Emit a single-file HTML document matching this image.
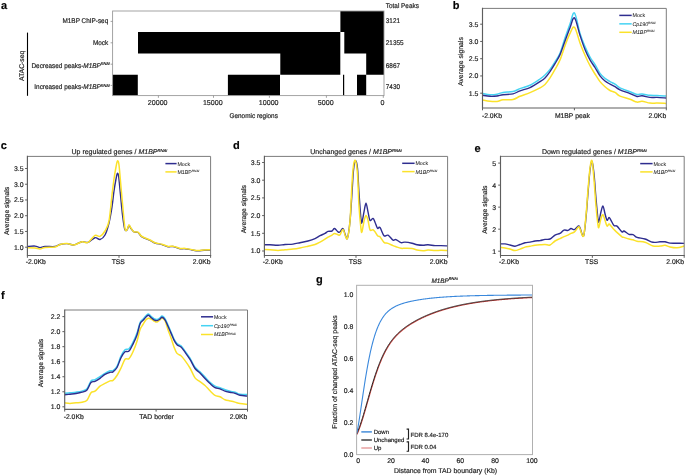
<!DOCTYPE html>
<html><head><meta charset="utf-8"><title>Figure</title>
<style>html,body{margin:0;padding:0;background:#fff;}svg{display:block;will-change:transform;}text{font-family:"Liberation Sans", sans-serif;text-rendering:geometricPrecision;stroke:#1e1e1e;stroke-width:0.18px;}</style></head>
<body>
<svg width="685" height="475" viewBox="0 0 685 475" font-family='"Liberation Sans", sans-serif'>
<rect width="685" height="475" fill="#fff"/>
<text x="1.00" y="8.80" font-size="11" text-anchor="start" fill="#000" font-weight="bold">a</text>
<path d="M340.40,11.00H384.00V32.10H340.40ZM138.00,32.10H340.30V53.40H138.00ZM344.30,32.10H384.00V53.40H344.30ZM280.30,53.40H340.30V74.70H280.30ZM366.20,53.40H384.00V74.70H366.20ZM112.60,74.70H137.80V95.60H112.60ZM227.90,74.70H280.00V95.60H227.90ZM343.00,74.70H344.20V95.60H343.00ZM357.00,74.70H366.20V95.60H357.00Z" fill="#000"/>
<rect x="112.60" y="11.00" width="271.40" height="84.60" fill="none" stroke="#9a9a9a" stroke-width="0.9"/>
<line x1="110.60" y1="21.40" x2="112.60" y2="21.40" stroke="#8a8a8a" stroke-width="0.8"/>
<text x="0" y="0" transform="translate(108.20 23.10) scale(1.0 1.07)" font-size="6.4" text-anchor="end" fill="#1e1e1e"><tspan>M1BP ChIP-seq</tspan></text>
<line x1="110.60" y1="42.80" x2="112.60" y2="42.80" stroke="#8a8a8a" stroke-width="0.8"/>
<text x="0" y="0" transform="translate(108.20 45.00) scale(1.0 1.07)" font-size="6.4" text-anchor="end" fill="#1e1e1e"><tspan>Mock</tspan></text>
<line x1="110.60" y1="64.20" x2="112.60" y2="64.20" stroke="#8a8a8a" stroke-width="0.8"/>
<text x="0" y="0" transform="translate(109.70 67.60) scale(1.0 1.07)" font-size="6.4" text-anchor="end" fill="#1e1e1e"><tspan>Decreased peaks-</tspan><tspan font-style="italic">M1BP</tspan><tspan font-style="italic" font-size="3.84" dy="-2.18">RNAi</tspan></text>
<line x1="110.60" y1="85.40" x2="112.60" y2="85.40" stroke="#8a8a8a" stroke-width="0.8"/>
<text x="0" y="0" transform="translate(109.70 89.10) scale(1.0 1.07)" font-size="6.4" text-anchor="end" fill="#1e1e1e"><tspan>Increased peaks-</tspan><tspan font-style="italic">M1BP</tspan><tspan font-style="italic" font-size="3.84" dy="-2.18">RNAi</tspan></text>
<line x1="27.50" y1="32.60" x2="27.50" y2="95.80" stroke="#000" stroke-width="1.1"/>
<text x="0" y="0" transform="translate(24.30 65.90) rotate(-90)" font-size="6.8" text-anchor="middle" fill="#1e1e1e">ATAC-seq</text>
<text x="0" y="0" transform="translate(385.80 8.20) scale(1.0 1.07)" font-size="6.4" text-anchor="start" fill="#1e1e1e">Total Peaks</text>
<text x="0" y="0" transform="translate(385.80 23.10) scale(1.0 1.07)" font-size="6.4" text-anchor="start" fill="#1e1e1e">3121</text>
<text x="0" y="0" transform="translate(385.80 45.00) scale(1.0 1.07)" font-size="6.4" text-anchor="start" fill="#1e1e1e">21355</text>
<text x="0" y="0" transform="translate(385.80 67.60) scale(1.0 1.07)" font-size="6.4" text-anchor="start" fill="#1e1e1e">6867</text>
<text x="0" y="0" transform="translate(385.80 89.10) scale(1.0 1.07)" font-size="6.4" text-anchor="start" fill="#1e1e1e">7430</text>
<line x1="383.30" y1="95.60" x2="383.30" y2="97.80" stroke="#8a8a8a" stroke-width="0.8"/>
<text x="382.60" y="104.90" font-size="7.1" text-anchor="middle" fill="#1e1e1e">0</text>
<line x1="326.40" y1="95.60" x2="326.40" y2="97.80" stroke="#8a8a8a" stroke-width="0.8"/>
<text x="325.70" y="104.90" font-size="7.1" text-anchor="middle" fill="#1e1e1e">5000</text>
<line x1="269.40" y1="95.60" x2="269.40" y2="97.80" stroke="#8a8a8a" stroke-width="0.8"/>
<text x="268.70" y="104.90" font-size="7.1" text-anchor="middle" fill="#1e1e1e">10000</text>
<line x1="213.50" y1="95.60" x2="213.50" y2="97.80" stroke="#8a8a8a" stroke-width="0.8"/>
<text x="212.80" y="104.90" font-size="7.1" text-anchor="middle" fill="#1e1e1e">15000</text>
<line x1="158.40" y1="95.60" x2="158.40" y2="97.80" stroke="#8a8a8a" stroke-width="0.8"/>
<text x="157.70" y="104.90" font-size="7.1" text-anchor="middle" fill="#1e1e1e">20000</text>
<text x="0" y="0" transform="translate(253.70 118.00) scale(1.0 1.07)" font-size="6.4" text-anchor="middle" fill="#1e1e1e">Genomic regions</text>
<text x="452.80" y="8.70" font-size="11" text-anchor="start" fill="#000" font-weight="bold">b</text>
<clipPath id="cb"><rect x="482.5" y="8.4" width="183.79999999999995" height="99.6"/></clipPath>
<g clip-path="url(#cb)">
<path d="M482.50,100.00 C483.75,100.22 487.58,101.07 490.00,101.30 C492.42,101.53 494.83,101.65 497.00,101.40 C499.17,101.15 500.33,100.12 503.00,99.80 C505.67,99.48 510.17,100.08 513.00,99.50 C515.83,98.92 517.17,97.45 520.00,96.30 C522.83,95.15 526.67,94.00 530.00,92.60 C533.33,91.20 537.50,89.25 540.00,87.90 C542.50,86.55 543.33,86.17 545.00,84.50 C546.67,82.83 548.33,80.42 550.00,77.90 C551.67,75.38 553.33,72.40 555.00,69.40 C556.67,66.40 558.33,63.85 560.00,59.90 C561.67,55.95 563.33,50.12 565.00,45.70 C566.67,41.28 568.42,36.47 570.00,33.40 C571.58,30.33 572.83,25.72 574.50,27.30 C576.17,28.88 578.25,38.25 580.00,42.90 C581.75,47.55 583.33,51.42 585.00,55.20 C586.67,58.98 588.33,62.47 590.00,65.60 C591.67,68.73 593.33,71.33 595.00,74.00 C596.67,76.67 598.33,79.48 600.00,81.60 C601.67,83.72 603.33,85.22 605.00,86.70 C606.67,88.18 608.33,89.55 610.00,90.50 C611.67,91.45 613.33,91.47 615.00,92.40 C616.67,93.33 617.50,94.95 620.00,96.10 C622.50,97.25 627.17,98.30 630.00,99.30 C632.83,100.30 635.00,101.78 637.00,102.10 C639.00,102.42 639.83,101.03 642.00,101.20 C644.17,101.37 647.50,102.78 650.00,103.10 C652.50,103.42 654.33,103.05 657.00,103.10 C659.67,103.15 664.50,103.35 666.00,103.40" fill="none" stroke="#fbe22a" stroke-width="1.5" stroke-linejoin="round" stroke-linecap="round"/>
<path d="M482.50,93.50 C483.75,93.70 487.58,94.58 490.00,94.70 C492.42,94.82 494.83,94.58 497.00,94.20 C499.17,93.82 500.33,92.83 503.00,92.40 C505.67,91.97 510.17,92.23 513.00,91.60 C515.83,90.97 517.17,89.65 520.00,88.60 C522.83,87.55 526.67,86.90 530.00,85.30 C533.33,83.70 537.50,80.72 540.00,79.00 C542.50,77.28 543.33,76.60 545.00,75.00 C546.67,73.40 548.33,71.60 550.00,69.40 C551.67,67.20 553.33,64.48 555.00,61.80 C556.67,59.12 558.33,57.25 560.00,53.30 C561.67,49.35 563.33,43.00 565.00,38.10 C566.67,33.20 568.42,28.08 570.00,23.90 C571.58,19.72 572.83,11.42 574.50,13.00 C576.17,14.58 578.25,27.80 580.00,33.40 C581.75,39.00 583.33,42.67 585.00,46.60 C586.67,50.53 588.33,54.00 590.00,57.00 C591.67,60.00 593.33,61.87 595.00,64.60 C596.67,67.33 598.33,71.10 600.00,73.40 C601.67,75.70 603.33,77.03 605.00,78.40 C606.67,79.77 608.33,80.65 610.00,81.60 C611.67,82.55 613.33,83.05 615.00,84.10 C616.67,85.15 617.50,86.63 620.00,87.90 C622.50,89.17 627.17,90.60 630.00,91.70 C632.83,92.80 635.00,94.12 637.00,94.50 C639.00,94.88 639.83,93.87 642.00,94.00 C644.17,94.13 647.50,95.05 650.00,95.30 C652.50,95.55 654.33,95.37 657.00,95.50 C659.67,95.63 664.50,96.00 666.00,96.10" fill="none" stroke="#45d3f3" stroke-width="1.5" stroke-linejoin="round" stroke-linecap="round"/>
<path d="M482.50,95.30 C483.75,95.47 487.58,96.18 490.00,96.30 C492.42,96.42 494.83,96.27 497.00,96.00 C499.17,95.73 500.33,95.05 503.00,94.70 C505.67,94.35 510.17,94.55 513.00,93.90 C515.83,93.25 517.17,91.85 520.00,90.80 C522.83,89.75 526.67,89.13 530.00,87.60 C533.33,86.07 537.50,83.22 540.00,81.60 C542.50,79.98 543.33,79.57 545.00,77.90 C546.67,76.23 548.33,73.97 550.00,71.60 C551.67,69.23 553.33,66.53 555.00,63.70 C556.67,60.87 558.33,58.38 560.00,54.60 C561.67,50.82 563.33,45.48 565.00,41.00 C566.67,36.52 568.42,31.55 570.00,27.70 C571.58,23.85 572.83,16.63 574.50,17.90 C576.17,19.17 578.25,30.03 580.00,35.30 C581.75,40.57 583.33,45.40 585.00,49.50 C586.67,53.60 588.33,56.90 590.00,59.90 C591.67,62.90 593.33,64.83 595.00,67.50 C596.67,70.17 598.33,73.65 600.00,75.90 C601.67,78.15 603.33,79.63 605.00,81.00 C606.67,82.37 608.33,83.15 610.00,84.10 C611.67,85.05 613.33,85.75 615.00,86.70 C616.67,87.65 617.50,88.65 620.00,89.80 C622.50,90.95 627.17,92.48 630.00,93.60 C632.83,94.72 635.00,96.13 637.00,96.50 C639.00,96.87 639.83,95.65 642.00,95.80 C644.17,95.95 647.50,97.13 650.00,97.40 C652.50,97.67 654.33,97.30 657.00,97.40 C659.67,97.50 664.50,97.90 666.00,98.00" fill="none" stroke="#2e2d8f" stroke-width="1.4" stroke-linejoin="round" stroke-linecap="round"/>
</g>
<path d="M482.50,8.40H666.30V108.00" fill="none" stroke="#7c7c7c" stroke-width="1.0"/>
<path d="M482.50,8.40V108.00H666.30" fill="none" stroke="#5e5e5e" stroke-width="1.15" stroke-linecap="square"/>
<line x1="480.20" y1="24.20" x2="482.50" y2="24.20" stroke="#5e5e5e" stroke-width="1.0"/>
<text x="478.40" y="26.68" font-size="6.9" text-anchor="end" fill="#1e1e1e">3.5</text>
<line x1="480.20" y1="41.45" x2="482.50" y2="41.45" stroke="#5e5e5e" stroke-width="1.0"/>
<text x="478.40" y="43.93" font-size="6.9" text-anchor="end" fill="#1e1e1e">3.0</text>
<line x1="480.20" y1="58.70" x2="482.50" y2="58.70" stroke="#5e5e5e" stroke-width="1.0"/>
<text x="478.40" y="61.18" font-size="6.9" text-anchor="end" fill="#1e1e1e">2.5</text>
<line x1="480.20" y1="75.95" x2="482.50" y2="75.95" stroke="#5e5e5e" stroke-width="1.0"/>
<text x="478.40" y="78.43" font-size="6.9" text-anchor="end" fill="#1e1e1e">2.0</text>
<line x1="480.20" y1="93.20" x2="482.50" y2="93.20" stroke="#5e5e5e" stroke-width="1.0"/>
<text x="478.40" y="95.68" font-size="6.9" text-anchor="end" fill="#1e1e1e">1.5</text>
<line x1="482.50" y1="108.00" x2="482.50" y2="110.30" stroke="#5e5e5e" stroke-width="1.0"/>
<line x1="574.40" y1="108.00" x2="574.40" y2="110.30" stroke="#5e5e5e" stroke-width="1.0"/>
<line x1="666.30" y1="108.00" x2="666.30" y2="110.30" stroke="#5e5e5e" stroke-width="1.0"/>
<text x="481.90" y="117.70" font-size="6.8" text-anchor="start" fill="#1e1e1e">-2.0Kb</text>
<text x="572.40" y="117.70" font-size="6.8" text-anchor="middle" fill="#1e1e1e">M1BP peak</text>
<text x="666.20" y="117.70" font-size="6.8" text-anchor="end" fill="#1e1e1e">2.0Kb</text>
<text x="0" y="0" transform="translate(462.90 61.60) rotate(-90)" font-size="6.9" text-anchor="middle" fill="#1e1e1e">Average signals</text>
<line x1="619.30" y1="15.40" x2="631.70" y2="15.40" stroke="#2e2d8f" stroke-width="1.5"/>
<text x="632.50" y="17.31" font-size="5.3" fill="#2a2a2a" style="stroke-width:0.06px"><tspan>Mock</tspan></text>
<line x1="619.30" y1="23.85" x2="631.70" y2="23.85" stroke="#45d3f3" stroke-width="1.5"/>
<text x="632.50" y="25.76" font-size="5.3" fill="#2a2a2a" style="stroke-width:0.06px"><tspan font-style="italic">Cp190</tspan><tspan font-style="italic" font-size="3.18" dy="-1.91">RNAi</tspan></text>
<line x1="619.30" y1="32.30" x2="631.70" y2="32.30" stroke="#fbe22a" stroke-width="1.5"/>
<text x="632.50" y="34.21" font-size="5.3" fill="#2a2a2a" style="stroke-width:0.06px"><tspan font-style="italic">M1BP</tspan><tspan font-style="italic" font-size="3.18" dy="-1.91">RNAi</tspan></text>
<text x="0.80" y="149.40" font-size="11" text-anchor="start" fill="#000" font-weight="bold">c</text>
<clipPath id="cc"><rect x="27.4" y="156.4" width="183.2" height="99.1"/></clipPath>
<g clip-path="url(#cc)">
<path d="M27.50,246.50 C28.75,246.43 32.92,245.92 35.00,246.10 C37.08,246.28 38.33,247.53 40.00,247.60 C41.67,247.67 42.50,246.68 45.00,246.50 C47.50,246.32 52.50,246.83 55.00,246.50 C57.50,246.17 58.00,244.98 60.00,244.50 C62.00,244.02 64.67,243.53 67.00,243.60 C69.33,243.67 71.50,245.22 74.00,244.90 C76.50,244.58 79.67,242.12 82.00,241.70 C84.33,241.28 85.83,243.07 88.00,242.40 C90.17,241.73 93.00,238.18 95.00,237.70 C97.00,237.22 98.33,239.95 100.00,239.50 C101.67,239.05 103.50,237.75 105.00,235.00 C106.50,232.25 107.83,227.67 109.00,223.00 C110.17,218.33 111.17,212.33 112.00,207.00 C112.83,201.67 113.33,195.67 114.00,191.00 C114.67,186.33 115.43,181.93 116.00,179.00 C116.57,176.07 116.95,173.73 117.40,173.40 C117.85,173.07 118.18,173.40 118.70,177.00 C119.22,180.60 119.87,188.67 120.50,195.00 C121.13,201.33 121.80,209.33 122.50,215.00 C123.20,220.67 123.95,226.50 124.70,229.00 C125.45,231.50 126.28,230.58 127.00,230.00 C127.72,229.42 128.33,225.75 129.00,225.50 C129.67,225.25 130.17,227.42 131.00,228.50 C131.83,229.58 132.83,231.33 134.00,232.00 C135.17,232.67 136.67,231.70 138.00,232.50 C139.33,233.30 140.00,235.50 142.00,236.80 C144.00,238.10 147.83,239.27 150.00,240.30 C152.17,241.33 153.00,242.28 155.00,243.00 C157.00,243.72 159.83,243.98 162.00,244.60 C164.17,245.22 166.17,246.38 168.00,246.70 C169.83,247.02 171.00,246.17 173.00,246.50 C175.00,246.83 178.00,248.33 180.00,248.70 C182.00,249.07 183.00,248.48 185.00,248.70 C187.00,248.92 189.83,249.65 192.00,250.00 C194.17,250.35 196.00,250.77 198.00,250.80 C200.00,250.83 201.90,250.33 204.00,250.20 C206.10,250.07 209.50,250.03 210.60,250.00" fill="none" stroke="#2e2d8f" stroke-width="1.4" stroke-linejoin="round" stroke-linecap="round"/>
<path d="M27.50,247.80 C28.75,247.83 32.92,247.80 35.00,248.00 C37.08,248.20 38.33,249.08 40.00,249.00 C41.67,248.92 42.50,247.83 45.00,247.50 C47.50,247.17 52.50,247.50 55.00,247.00 C57.50,246.50 58.00,245.07 60.00,244.50 C62.00,243.93 64.67,243.53 67.00,243.60 C69.33,243.67 71.50,245.22 74.00,244.90 C76.50,244.58 79.67,242.12 82.00,241.70 C84.33,241.28 85.83,243.45 88.00,242.40 C90.17,241.35 93.00,236.40 95.00,235.40 C97.00,234.40 98.33,237.13 100.00,236.40 C101.67,235.67 103.50,233.57 105.00,231.00 C106.50,228.43 107.83,227.00 109.00,221.00 C110.17,215.00 111.17,202.00 112.00,195.00 C112.83,188.00 113.33,183.67 114.00,179.00 C114.67,174.33 115.42,170.00 116.00,167.00 C116.58,164.00 117.00,161.33 117.50,161.00 C118.00,160.67 118.42,160.67 119.00,165.00 C119.58,169.33 120.33,179.67 121.00,187.00 C121.67,194.33 122.33,202.08 123.00,209.00 C123.67,215.92 124.33,225.03 125.00,228.50 C125.67,231.97 126.33,230.38 127.00,229.80 C127.67,229.22 128.33,225.30 129.00,225.00 C129.67,224.70 130.17,226.87 131.00,228.00 C131.83,229.13 132.83,231.10 134.00,231.80 C135.17,232.50 136.67,231.42 138.00,232.20 C139.33,232.98 140.00,235.20 142.00,236.50 C144.00,237.80 147.83,238.97 150.00,240.00 C152.17,241.03 153.00,241.98 155.00,242.70 C157.00,243.42 159.83,243.68 162.00,244.30 C164.17,244.92 166.17,246.08 168.00,246.40 C169.83,246.72 171.00,245.87 173.00,246.20 C175.00,246.53 178.00,248.03 180.00,248.40 C182.00,248.77 183.00,248.18 185.00,248.40 C187.00,248.62 189.83,249.35 192.00,249.70 C194.17,250.05 196.00,250.47 198.00,250.50 C200.00,250.53 201.90,250.03 204.00,249.90 C206.10,249.77 209.50,249.73 210.60,249.70" fill="none" stroke="#fbe22a" stroke-width="1.5" stroke-linejoin="round" stroke-linecap="round"/>
</g>
<path d="M27.40,156.40H210.60V255.50" fill="none" stroke="#7c7c7c" stroke-width="1.0"/>
<path d="M27.40,156.40V255.50H210.60" fill="none" stroke="#5e5e5e" stroke-width="1.15" stroke-linecap="square"/>
<line x1="25.10" y1="247.20" x2="27.40" y2="247.20" stroke="#5e5e5e" stroke-width="1.0"/>
<text x="23.60" y="249.68" font-size="6.9" text-anchor="end" fill="#1e1e1e">1.0</text>
<line x1="25.10" y1="231.46" x2="27.40" y2="231.46" stroke="#5e5e5e" stroke-width="1.0"/>
<text x="23.60" y="233.94" font-size="6.9" text-anchor="end" fill="#1e1e1e">1.5</text>
<line x1="25.10" y1="215.72" x2="27.40" y2="215.72" stroke="#5e5e5e" stroke-width="1.0"/>
<text x="23.60" y="218.20" font-size="6.9" text-anchor="end" fill="#1e1e1e">2.0</text>
<line x1="25.10" y1="199.98" x2="27.40" y2="199.98" stroke="#5e5e5e" stroke-width="1.0"/>
<text x="23.60" y="202.46" font-size="6.9" text-anchor="end" fill="#1e1e1e">2.5</text>
<line x1="25.10" y1="184.24" x2="27.40" y2="184.24" stroke="#5e5e5e" stroke-width="1.0"/>
<text x="23.60" y="186.72" font-size="6.9" text-anchor="end" fill="#1e1e1e">3.0</text>
<line x1="25.10" y1="168.50" x2="27.40" y2="168.50" stroke="#5e5e5e" stroke-width="1.0"/>
<text x="23.60" y="170.98" font-size="6.9" text-anchor="end" fill="#1e1e1e">3.5</text>
<line x1="27.40" y1="255.50" x2="27.40" y2="257.80" stroke="#5e5e5e" stroke-width="1.0"/>
<line x1="119.00" y1="255.50" x2="119.00" y2="257.80" stroke="#5e5e5e" stroke-width="1.0"/>
<line x1="210.60" y1="255.50" x2="210.60" y2="257.80" stroke="#5e5e5e" stroke-width="1.0"/>
<text x="25.80" y="263.50" font-size="6.8" text-anchor="start" fill="#1e1e1e">-2.0Kb</text>
<text x="118.30" y="263.50" font-size="6.8" text-anchor="middle" fill="#1e1e1e">TSS</text>
<text x="210.50" y="263.50" font-size="6.8" text-anchor="end" fill="#1e1e1e">2.0Kb</text>
<text x="0" y="0" transform="translate(9.10 210.90) rotate(-90)" font-size="6.8" text-anchor="middle" fill="#1e1e1e">Average signals</text>
<text x="119.4" y="154.1" font-size="7.0" text-anchor="middle" fill="#1e1e1e"><tspan>Up regulated genes / </tspan><tspan font-style="italic">M1BP</tspan><tspan font-style="italic" font-size="4.20" dy="-2.52">RNAi</tspan></text>
<line x1="165.40" y1="163.60" x2="176.60" y2="163.60" stroke="#2e2d8f" stroke-width="1.5"/>
<text x="177.40" y="165.51" font-size="5.3" fill="#2a2a2a" style="stroke-width:0.06px"><tspan>Mock</tspan></text>
<line x1="165.40" y1="171.90" x2="176.60" y2="171.90" stroke="#fbe22a" stroke-width="1.5"/>
<text x="177.40" y="173.81" font-size="5.3" fill="#2a2a2a" style="stroke-width:0.06px"><tspan>M1BP</tspan><tspan font-style="italic" font-size="3.18" dy="-1.91">RNAi</tspan></text>
<text x="233.00" y="149.40" font-size="11" text-anchor="start" fill="#000" font-weight="bold">d</text>
<clipPath id="cd"><rect x="264.4" y="156.4" width="183.20000000000005" height="99.1"/></clipPath>
<g clip-path="url(#cd)">
<path d="M264.40,244.80 C265.33,244.80 267.73,244.72 270.00,244.80 C272.27,244.88 275.50,245.35 278.00,245.30 C280.50,245.25 282.50,244.70 285.00,244.50 C287.50,244.30 290.50,244.40 293.00,244.10 C295.50,243.80 297.50,243.22 300.00,242.70 C302.50,242.18 305.50,241.68 308.00,241.00 C310.50,240.32 313.00,239.48 315.00,238.60 C317.00,237.72 318.33,236.57 320.00,235.70 C321.67,234.83 323.67,234.12 325.00,233.40 C326.33,232.68 326.83,231.80 328.00,231.40 C329.17,231.00 330.92,231.48 332.00,231.00 C333.08,230.52 333.50,228.35 334.50,228.50 C335.50,228.65 337.08,231.32 338.00,231.90 C338.92,232.48 339.17,232.57 340.00,232.00 C340.83,231.43 342.08,227.92 343.00,228.50 C343.92,229.08 344.75,233.92 345.50,235.50 C346.25,237.08 346.75,240.37 347.50,238.00 C348.25,235.63 349.25,228.82 350.00,221.30 C350.75,213.78 351.42,201.42 352.00,192.90 C352.58,184.38 352.92,175.57 353.50,170.20 C354.08,164.83 354.83,161.02 355.50,160.70 C356.17,160.38 356.92,162.93 357.50,168.30 C358.08,173.67 358.42,184.38 359.00,192.90 C359.58,201.42 360.50,214.52 361.00,219.40 C361.50,224.28 361.50,223.47 362.00,222.20 C362.50,220.93 363.33,214.95 364.00,211.80 C364.67,208.65 365.33,203.30 366.00,203.30 C366.67,203.30 367.33,208.97 368.00,211.80 C368.67,214.63 369.17,219.20 370.00,220.30 C370.83,221.40 372.17,218.08 373.00,218.40 C373.83,218.72 374.25,220.55 375.00,222.20 C375.75,223.85 376.67,227.42 377.50,228.30 C378.33,229.18 378.92,226.27 380.00,227.50 C381.08,228.73 382.67,234.42 384.00,235.70 C385.33,236.98 386.50,234.47 388.00,235.20 C389.50,235.93 391.67,239.37 393.00,240.10 C394.33,240.83 394.67,239.18 396.00,239.60 C397.33,240.02 399.50,242.18 401.00,242.60 C402.50,243.02 403.17,242.00 405.00,242.10 C406.83,242.20 410.00,242.75 412.00,243.20 C414.00,243.65 415.17,244.45 417.00,244.80 C418.83,245.15 421.17,245.30 423.00,245.30 C424.83,245.30 426.00,244.75 428.00,244.80 C430.00,244.85 432.83,245.47 435.00,245.60 C437.17,245.73 438.90,245.55 441.00,245.60 C443.10,245.65 446.50,245.85 447.60,245.90" fill="none" stroke="#2e2d8f" stroke-width="1.4" stroke-linejoin="round" stroke-linecap="round"/>
<path d="M264.40,249.50 C265.33,249.53 267.73,249.53 270.00,249.70 C272.27,249.87 275.50,250.50 278.00,250.50 C280.50,250.50 282.50,249.93 285.00,249.70 C287.50,249.47 290.50,249.38 293.00,249.10 C295.50,248.82 297.50,248.48 300.00,248.00 C302.50,247.52 305.50,246.78 308.00,246.20 C310.50,245.62 313.00,245.18 315.00,244.50 C317.00,243.82 318.33,242.98 320.00,242.10 C321.67,241.22 323.67,240.02 325.00,239.20 C326.33,238.38 326.83,237.88 328.00,237.20 C329.17,236.52 330.92,235.73 332.00,235.10 C333.08,234.47 333.50,233.45 334.50,233.40 C335.50,233.35 337.08,234.57 338.00,234.80 C338.92,235.03 339.17,235.70 340.00,234.80 C340.83,233.90 342.08,229.13 343.00,229.40 C343.92,229.67 344.75,234.97 345.50,236.40 C346.25,237.83 346.75,240.52 347.50,238.00 C348.25,235.48 349.25,230.40 350.00,221.30 C350.75,212.20 351.42,192.72 352.00,183.40 C352.58,174.08 352.92,169.18 353.50,165.40 C354.08,161.62 354.83,159.28 355.50,160.70 C356.17,162.12 356.92,166.33 357.50,173.90 C358.08,181.47 358.42,196.93 359.00,206.10 C359.58,215.27 360.50,224.63 361.00,228.90 C361.50,233.17 361.50,232.97 362.00,231.70 C362.50,230.43 363.33,223.98 364.00,221.30 C364.67,218.62 365.33,215.77 366.00,215.60 C366.67,215.43 367.33,217.93 368.00,220.30 C368.67,222.67 369.17,228.22 370.00,229.80 C370.83,231.38 372.17,229.47 373.00,229.80 C373.83,230.13 374.25,230.82 375.00,231.80 C375.75,232.78 376.67,234.87 377.50,235.70 C378.33,236.53 378.92,235.70 380.00,236.80 C381.08,237.90 382.67,241.20 384.00,242.30 C385.33,243.40 386.50,242.85 388.00,243.40 C389.50,243.95 391.67,245.05 393.00,245.60 C394.33,246.15 394.67,246.25 396.00,246.70 C397.33,247.15 399.50,248.03 401.00,248.30 C402.50,248.57 403.17,248.27 405.00,248.30 C406.83,248.33 410.00,248.22 412.00,248.50 C414.00,248.78 415.17,249.62 417.00,250.00 C418.83,250.38 421.17,250.80 423.00,250.80 C424.83,250.80 426.00,250.05 428.00,250.00 C430.00,249.95 432.83,250.45 435.00,250.50 C437.17,250.55 438.90,250.30 441.00,250.30 C443.10,250.30 446.50,250.47 447.60,250.50" fill="none" stroke="#fbe22a" stroke-width="1.5" stroke-linejoin="round" stroke-linecap="round"/>
</g>
<path d="M264.40,156.40H447.60V255.50" fill="none" stroke="#7c7c7c" stroke-width="1.0"/>
<path d="M264.40,156.40V255.50H447.60" fill="none" stroke="#5e5e5e" stroke-width="1.15" stroke-linecap="square"/>
<line x1="262.10" y1="251.00" x2="264.40" y2="251.00" stroke="#5e5e5e" stroke-width="1.0"/>
<text x="260.40" y="253.48" font-size="6.9" text-anchor="end" fill="#1e1e1e">1.0</text>
<line x1="262.10" y1="233.30" x2="264.40" y2="233.30" stroke="#5e5e5e" stroke-width="1.0"/>
<text x="260.40" y="235.78" font-size="6.9" text-anchor="end" fill="#1e1e1e">1.5</text>
<line x1="262.10" y1="215.60" x2="264.40" y2="215.60" stroke="#5e5e5e" stroke-width="1.0"/>
<text x="260.40" y="218.08" font-size="6.9" text-anchor="end" fill="#1e1e1e">2.0</text>
<line x1="262.10" y1="197.90" x2="264.40" y2="197.90" stroke="#5e5e5e" stroke-width="1.0"/>
<text x="260.40" y="200.38" font-size="6.9" text-anchor="end" fill="#1e1e1e">2.5</text>
<line x1="262.10" y1="180.20" x2="264.40" y2="180.20" stroke="#5e5e5e" stroke-width="1.0"/>
<text x="260.40" y="182.68" font-size="6.9" text-anchor="end" fill="#1e1e1e">3.0</text>
<line x1="262.10" y1="162.50" x2="264.40" y2="162.50" stroke="#5e5e5e" stroke-width="1.0"/>
<text x="260.40" y="164.98" font-size="6.9" text-anchor="end" fill="#1e1e1e">3.5</text>
<line x1="264.40" y1="255.50" x2="264.40" y2="257.80" stroke="#5e5e5e" stroke-width="1.0"/>
<line x1="356.00" y1="255.50" x2="356.00" y2="257.80" stroke="#5e5e5e" stroke-width="1.0"/>
<line x1="447.60" y1="255.50" x2="447.60" y2="257.80" stroke="#5e5e5e" stroke-width="1.0"/>
<text x="262.80" y="263.50" font-size="6.8" text-anchor="start" fill="#1e1e1e">-2.0Kb</text>
<text x="355.30" y="263.50" font-size="6.8" text-anchor="middle" fill="#1e1e1e">TSS</text>
<text x="447.50" y="263.50" font-size="6.8" text-anchor="end" fill="#1e1e1e">2.0Kb</text>
<text x="0" y="0" transform="translate(246.20 209.20) rotate(-90)" font-size="6.8" text-anchor="middle" fill="#1e1e1e">Average signals</text>
<text x="356.0" y="154.1" font-size="7.0" text-anchor="middle" fill="#1e1e1e"><tspan>Unchanged genes / </tspan><tspan font-style="italic">M1BP</tspan><tspan font-style="italic" font-size="4.20" dy="-2.52">RNAi</tspan></text>
<line x1="402.20" y1="163.30" x2="414.60" y2="163.30" stroke="#2e2d8f" stroke-width="1.5"/>
<text x="415.40" y="165.21" font-size="5.3" fill="#2a2a2a" style="stroke-width:0.06px"><tspan>Mock</tspan></text>
<line x1="402.20" y1="171.60" x2="414.60" y2="171.60" stroke="#fbe22a" stroke-width="1.5"/>
<text x="415.40" y="173.51" font-size="5.3" fill="#2a2a2a" style="stroke-width:0.06px"><tspan font-style="italic">M1BP</tspan><tspan font-style="italic" font-size="3.18" dy="-1.91">RNAi</tspan></text>
<text x="474.60" y="151.70" font-size="11" text-anchor="start" fill="#000" font-weight="bold">e</text>
<clipPath id="ce"><rect x="500.5" y="156.4" width="183.70000000000005" height="99.1"/></clipPath>
<g clip-path="url(#ce)">
<path d="M500.50,243.90 C501.25,243.90 503.42,243.72 505.00,243.90 C506.58,244.08 508.33,244.62 510.00,245.00 C511.67,245.38 513.33,246.28 515.00,246.20 C516.67,246.12 518.33,245.08 520.00,244.50 C521.67,243.92 523.33,243.10 525.00,242.70 C526.67,242.30 528.33,242.38 530.00,242.10 C531.67,241.82 533.33,241.25 535.00,241.00 C536.67,240.75 538.33,240.87 540.00,240.60 C541.67,240.33 543.33,239.67 545.00,239.40 C546.67,239.13 548.33,239.72 550.00,239.00 C551.67,238.28 553.33,236.03 555.00,235.10 C556.67,234.17 558.50,234.23 560.00,233.40 C561.50,232.57 562.67,230.60 564.00,230.10 C565.33,229.60 566.83,230.67 568.00,230.40 C569.17,230.13 569.92,228.63 571.00,228.50 C572.08,228.37 573.25,230.02 574.50,229.60 C575.75,229.18 577.58,226.28 578.50,226.00 C579.42,225.72 579.17,226.22 580.00,227.90 C580.83,229.58 582.50,237.83 583.50,236.10 C584.50,234.37 585.25,224.70 586.00,217.50 C586.75,210.30 587.33,200.78 588.00,192.90 C588.67,185.02 589.33,175.42 590.00,170.20 C590.67,164.98 591.33,160.98 592.00,161.60 C592.67,162.22 593.33,167.73 594.00,173.90 C594.67,180.07 595.33,191.02 596.00,198.60 C596.67,206.18 597.50,215.62 598.00,219.40 C598.50,223.18 598.50,222.57 599.00,221.30 C599.50,220.03 600.33,214.33 601.00,211.80 C601.67,209.27 602.33,205.78 603.00,206.10 C603.67,206.42 604.33,211.33 605.00,213.70 C605.67,216.07 606.33,219.67 607.00,220.30 C607.67,220.93 608.33,217.50 609.00,217.50 C609.67,217.50 610.17,218.95 611.00,220.30 C611.83,221.65 613.00,224.63 614.00,225.60 C615.00,226.57 615.67,225.05 617.00,226.10 C618.33,227.15 620.83,231.08 622.00,231.90 C623.17,232.72 622.83,230.60 624.00,231.00 C625.17,231.40 627.50,233.70 629.00,234.30 C630.50,234.90 631.67,234.08 633.00,234.60 C634.33,235.12 635.00,236.67 637.00,237.40 C639.00,238.13 642.33,238.18 645.00,239.00 C647.67,239.82 650.50,241.83 653.00,242.30 C655.50,242.77 658.00,241.88 660.00,241.80 C662.00,241.72 663.33,241.58 665.00,241.80 C666.67,242.02 668.00,242.87 670.00,243.10 C672.00,243.33 674.63,243.15 677.00,243.20 C679.37,243.25 683.00,243.37 684.20,243.40" fill="none" stroke="#2e2d8f" stroke-width="1.4" stroke-linejoin="round" stroke-linecap="round"/>
<path d="M500.50,247.40 C501.25,247.50 503.42,247.72 505.00,248.00 C506.58,248.28 508.33,248.67 510.00,249.10 C511.67,249.53 513.33,250.60 515.00,250.60 C516.67,250.60 518.33,249.68 520.00,249.10 C521.67,248.52 523.33,247.58 525.00,247.10 C526.67,246.62 528.33,246.50 530.00,246.20 C531.67,245.90 533.33,245.53 535.00,245.30 C536.67,245.07 538.33,244.93 540.00,244.80 C541.67,244.67 543.33,244.47 545.00,244.50 C546.67,244.53 548.33,245.58 550.00,245.00 C551.67,244.42 553.33,242.07 555.00,241.00 C556.67,239.93 558.50,239.33 560.00,238.60 C561.50,237.87 562.67,237.18 564.00,236.60 C565.33,236.02 566.83,235.63 568.00,235.10 C569.17,234.57 569.92,233.93 571.00,233.40 C572.08,232.87 573.25,232.97 574.50,231.90 C575.75,230.83 577.58,227.50 578.50,227.00 C579.42,226.50 579.17,227.38 580.00,228.90 C580.83,230.42 582.50,238.33 583.50,236.10 C584.50,233.87 585.25,223.20 586.00,215.50 C586.75,207.80 587.33,197.78 588.00,189.90 C588.67,182.02 589.33,173.07 590.00,168.20 C590.67,163.33 591.33,158.80 592.00,160.70 C592.67,162.60 593.33,172.03 594.00,179.60 C594.67,187.17 595.33,198.52 596.00,206.10 C596.67,213.68 597.50,221.62 598.00,225.10 C598.50,228.58 598.50,228.12 599.00,227.00 C599.50,225.88 600.33,220.45 601.00,218.40 C601.67,216.35 602.33,214.38 603.00,214.70 C603.67,215.02 604.33,218.42 605.00,220.30 C605.67,222.18 606.33,225.37 607.00,226.00 C607.67,226.63 608.33,224.10 609.00,224.10 C609.67,224.10 610.17,225.08 611.00,226.00 C611.83,226.92 613.00,228.53 614.00,229.60 C615.00,230.67 615.67,231.20 617.00,232.40 C618.33,233.60 620.83,235.97 622.00,236.80 C623.17,237.63 622.83,237.03 624.00,237.40 C625.17,237.77 627.50,238.60 629.00,239.00 C630.50,239.40 631.67,239.43 633.00,239.80 C634.33,240.17 635.00,240.78 637.00,241.20 C639.00,241.62 642.33,241.52 645.00,242.30 C647.67,243.08 650.50,245.27 653.00,245.90 C655.50,246.53 658.00,246.20 660.00,246.10 C662.00,246.00 663.33,245.15 665.00,245.30 C666.67,245.45 668.00,246.58 670.00,247.00 C672.00,247.42 674.63,247.95 677.00,247.80 C679.37,247.65 683.00,246.38 684.20,246.10" fill="none" stroke="#fbe22a" stroke-width="1.5" stroke-linejoin="round" stroke-linecap="round"/>
</g>
<path d="M500.50,156.40H684.20V255.50" fill="none" stroke="#7c7c7c" stroke-width="1.0"/>
<path d="M500.50,156.40V255.50H684.20" fill="none" stroke="#5e5e5e" stroke-width="1.15" stroke-linecap="square"/>
<line x1="498.20" y1="251.20" x2="500.50" y2="251.20" stroke="#5e5e5e" stroke-width="1.0"/>
<text x="496.00" y="253.68" font-size="6.9" text-anchor="end" fill="#1e1e1e">1</text>
<line x1="498.20" y1="229.17" x2="500.50" y2="229.17" stroke="#5e5e5e" stroke-width="1.0"/>
<text x="496.00" y="231.65" font-size="6.9" text-anchor="end" fill="#1e1e1e">2</text>
<line x1="498.20" y1="207.14" x2="500.50" y2="207.14" stroke="#5e5e5e" stroke-width="1.0"/>
<text x="496.00" y="209.62" font-size="6.9" text-anchor="end" fill="#1e1e1e">3</text>
<line x1="498.20" y1="185.11" x2="500.50" y2="185.11" stroke="#5e5e5e" stroke-width="1.0"/>
<text x="496.00" y="187.59" font-size="6.9" text-anchor="end" fill="#1e1e1e">4</text>
<line x1="498.20" y1="163.08" x2="500.50" y2="163.08" stroke="#5e5e5e" stroke-width="1.0"/>
<text x="496.00" y="165.56" font-size="6.9" text-anchor="end" fill="#1e1e1e">5</text>
<line x1="500.50" y1="255.50" x2="500.50" y2="257.80" stroke="#5e5e5e" stroke-width="1.0"/>
<line x1="592.35" y1="255.50" x2="592.35" y2="257.80" stroke="#5e5e5e" stroke-width="1.0"/>
<line x1="684.20" y1="255.50" x2="684.20" y2="257.80" stroke="#5e5e5e" stroke-width="1.0"/>
<text x="498.90" y="263.50" font-size="6.8" text-anchor="start" fill="#1e1e1e">-2.0Kb</text>
<text x="591.65" y="263.50" font-size="6.8" text-anchor="middle" fill="#1e1e1e">TSS</text>
<text x="684.10" y="263.50" font-size="6.8" text-anchor="end" fill="#1e1e1e">2.0Kb</text>
<text x="0" y="0" transform="translate(486.50 209.70) rotate(-90)" font-size="6.8" text-anchor="middle" fill="#1e1e1e">Average signals</text>
<text x="594.3" y="154.1" font-size="7.0" text-anchor="middle" fill="#1e1e1e"><tspan>Down regulated genes / </tspan><tspan font-style="italic">M1BP</tspan><tspan font-style="italic" font-size="4.20" dy="-2.52">RNAi</tspan></text>
<line x1="640.20" y1="163.60" x2="652.60" y2="163.60" stroke="#2e2d8f" stroke-width="1.5"/>
<text x="653.40" y="165.51" font-size="5.3" fill="#2a2a2a" style="stroke-width:0.06px"><tspan>Mock</tspan></text>
<line x1="640.20" y1="171.90" x2="652.60" y2="171.90" stroke="#fbe22a" stroke-width="1.5"/>
<text x="653.40" y="173.81" font-size="5.3" fill="#2a2a2a" style="stroke-width:0.06px"><tspan font-style="italic">M1BP</tspan><tspan font-style="italic" font-size="3.18" dy="-1.91">RNAi</tspan></text>
<text x="1.00" y="299.30" font-size="11" text-anchor="start" fill="#000" font-weight="bold">f</text>
<clipPath id="cf"><rect x="64.7" y="310.0" width="182.8" height="99.30000000000001"/></clipPath>
<g clip-path="url(#cf)">
<path d="M64.70,402.80 C65.58,402.90 68.12,403.40 70.00,403.40 C71.88,403.40 74.00,402.98 76.00,402.80 C78.00,402.62 80.17,402.73 82.00,402.30 C83.83,401.87 85.50,401.80 87.00,400.20 C88.50,398.60 89.67,394.20 91.00,392.70 C92.33,391.20 93.50,392.28 95.00,391.20 C96.50,390.12 98.33,387.50 100.00,386.20 C101.67,384.90 103.33,384.28 105.00,383.40 C106.67,382.52 108.67,381.40 110.00,380.90 C111.33,380.40 111.83,381.30 113.00,380.40 C114.17,379.50 115.67,377.57 117.00,375.50 C118.33,373.43 119.67,370.70 121.00,368.00 C122.33,365.30 123.67,360.87 125.00,359.30 C126.33,357.73 127.67,359.87 129.00,358.60 C130.33,357.33 131.67,354.60 133.00,351.70 C134.33,348.80 135.83,344.87 137.00,341.20 C138.17,337.53 139.00,332.48 140.00,329.70 C141.00,326.92 142.00,326.15 143.00,324.50 C144.00,322.85 145.08,320.83 146.00,319.80 C146.92,318.77 147.67,318.43 148.50,318.30 C149.33,318.17 150.08,318.55 151.00,319.00 C151.92,319.45 153.00,320.48 154.00,321.00 C155.00,321.52 156.00,322.30 157.00,322.10 C158.00,321.90 159.17,320.47 160.00,319.80 C160.83,319.13 161.17,317.97 162.00,318.10 C162.83,318.23 164.00,318.67 165.00,320.60 C166.00,322.53 167.00,326.83 168.00,329.70 C169.00,332.57 170.00,334.92 171.00,337.80 C172.00,340.68 173.00,344.40 174.00,347.00 C175.00,349.60 175.83,351.95 177.00,353.40 C178.17,354.85 179.67,354.50 181.00,355.70 C182.33,356.90 183.50,358.55 185.00,360.60 C186.50,362.65 188.33,365.12 190.00,368.00 C191.67,370.88 193.33,375.62 195.00,377.90 C196.67,380.18 198.33,380.43 200.00,381.70 C201.67,382.97 203.33,383.98 205.00,385.50 C206.67,387.02 208.33,389.17 210.00,390.80 C211.67,392.43 213.33,394.30 215.00,395.30 C216.67,396.30 218.33,396.05 220.00,396.80 C221.67,397.55 223.33,399.12 225.00,399.80 C226.67,400.48 228.33,400.52 230.00,400.90 C231.67,401.28 233.33,401.65 235.00,402.10 C236.67,402.55 237.92,403.22 240.00,403.60 C242.08,403.98 246.25,404.27 247.50,404.40" fill="none" stroke="#fbe22a" stroke-width="1.5" stroke-linejoin="round" stroke-linecap="round"/>
<path d="M64.70,393.30 C65.58,393.22 68.12,392.98 70.00,392.80 C71.88,392.62 74.00,392.48 76.00,392.20 C78.00,391.92 80.17,391.67 82.00,391.10 C83.83,390.53 85.50,390.50 87.00,388.80 C88.50,387.10 89.67,382.40 91.00,380.90 C92.33,379.40 93.50,380.52 95.00,379.80 C96.50,379.08 98.33,377.68 100.00,376.60 C101.67,375.52 103.33,374.27 105.00,373.30 C106.67,372.33 108.67,371.25 110.00,370.80 C111.33,370.35 111.83,371.35 113.00,370.60 C114.17,369.85 115.67,368.70 117.00,366.30 C118.33,363.90 119.67,358.95 121.00,356.20 C122.33,353.45 123.67,351.03 125.00,349.80 C126.33,348.57 127.67,350.03 129.00,348.80 C130.33,347.57 131.67,345.02 133.00,342.40 C134.33,339.78 135.83,336.38 137.00,333.10 C138.17,329.82 139.00,325.00 140.00,322.70 C141.00,320.40 142.00,320.45 143.00,319.30 C144.00,318.15 145.08,316.67 146.00,315.80 C146.92,314.93 147.67,314.00 148.50,314.10 C149.33,314.20 150.08,315.63 151.00,316.40 C151.92,317.17 153.00,318.18 154.00,318.70 C155.00,319.22 156.00,319.63 157.00,319.50 C158.00,319.37 159.17,318.47 160.00,317.90 C160.83,317.33 161.17,315.97 162.00,316.10 C162.83,316.23 164.00,317.20 165.00,318.70 C166.00,320.20 167.00,322.88 168.00,325.10 C169.00,327.32 170.00,329.68 171.00,332.00 C172.00,334.32 173.00,337.07 174.00,339.00 C175.00,340.93 175.83,342.45 177.00,343.60 C178.17,344.75 179.67,344.65 181.00,345.90 C182.33,347.15 183.50,349.05 185.00,351.10 C186.50,353.15 188.33,355.50 190.00,358.20 C191.67,360.90 193.33,365.03 195.00,367.30 C196.67,369.57 198.33,370.17 200.00,371.80 C201.67,373.43 203.33,375.33 205.00,377.10 C206.67,378.87 208.33,380.88 210.00,382.40 C211.67,383.92 213.33,385.32 215.00,386.20 C216.67,387.08 218.33,387.12 220.00,387.70 C221.67,388.28 223.33,389.12 225.00,389.70 C226.67,390.28 228.33,390.78 230.00,391.20 C231.67,391.62 233.33,391.70 235.00,392.20 C236.67,392.70 237.92,393.82 240.00,394.20 C242.08,394.58 246.25,394.45 247.50,394.50" fill="none" stroke="#45d3f3" stroke-width="1.5" stroke-linejoin="round" stroke-linecap="round"/>
<path d="M64.70,394.80 C65.58,394.70 68.12,394.42 70.00,394.20 C71.88,393.98 74.00,393.83 76.00,393.50 C78.00,393.17 80.17,392.80 82.00,392.20 C83.83,391.60 85.50,391.50 87.00,389.90 C88.50,388.30 89.67,384.03 91.00,382.60 C92.33,381.17 93.50,382.02 95.00,381.30 C96.50,380.58 98.33,379.45 100.00,378.30 C101.67,377.15 103.33,375.40 105.00,374.40 C106.67,373.40 108.67,372.73 110.00,372.30 C111.33,371.87 111.83,372.60 113.00,371.80 C114.17,371.00 115.67,369.85 117.00,367.50 C118.33,365.15 119.67,360.32 121.00,357.70 C122.33,355.08 123.67,352.90 125.00,351.80 C126.33,350.70 127.67,352.38 129.00,351.10 C130.33,349.82 131.67,346.80 133.00,344.10 C134.33,341.40 135.83,338.27 137.00,334.90 C138.17,331.53 139.00,326.32 140.00,323.90 C141.00,321.48 142.00,321.57 143.00,320.40 C144.00,319.23 145.08,317.77 146.00,316.90 C146.92,316.03 147.67,315.10 148.50,315.20 C149.33,315.30 150.08,316.73 151.00,317.50 C151.92,318.27 153.00,319.28 154.00,319.80 C155.00,320.32 156.00,320.73 157.00,320.60 C158.00,320.47 159.17,319.57 160.00,319.00 C160.83,318.43 161.17,317.07 162.00,317.20 C162.83,317.33 164.00,318.30 165.00,319.80 C166.00,321.30 167.00,323.98 168.00,326.20 C169.00,328.42 170.00,330.78 171.00,333.10 C172.00,335.42 173.00,338.17 174.00,340.10 C175.00,342.03 175.83,343.55 177.00,344.70 C178.17,345.85 179.67,345.75 181.00,347.00 C182.33,348.25 183.50,350.13 185.00,352.20 C186.50,354.27 188.33,356.68 190.00,359.40 C191.67,362.12 193.33,366.23 195.00,368.50 C196.67,370.77 198.33,371.32 200.00,373.00 C201.67,374.68 203.33,376.83 205.00,378.60 C206.67,380.37 208.33,382.08 210.00,383.60 C211.67,385.12 213.33,386.83 215.00,387.70 C216.67,388.57 218.33,388.22 220.00,388.80 C221.67,389.38 223.33,390.62 225.00,391.20 C226.67,391.78 228.33,391.95 230.00,392.30 C231.67,392.65 233.33,392.80 235.00,393.30 C236.67,393.80 237.92,394.83 240.00,395.30 C242.08,395.77 246.25,395.97 247.50,396.10" fill="none" stroke="#2e2d8f" stroke-width="1.4" stroke-linejoin="round" stroke-linecap="round"/>
</g>
<path d="M64.70,310.00H247.50V409.30" fill="none" stroke="#7c7c7c" stroke-width="1.0"/>
<path d="M64.70,310.00V409.30H247.50" fill="none" stroke="#5e5e5e" stroke-width="1.15" stroke-linecap="square"/>
<line x1="62.40" y1="406.80" x2="64.70" y2="406.80" stroke="#5e5e5e" stroke-width="1.0"/>
<text x="60.30" y="409.28" font-size="6.9" text-anchor="end" fill="#1e1e1e">1.0</text>
<line x1="62.40" y1="391.77" x2="64.70" y2="391.77" stroke="#5e5e5e" stroke-width="1.0"/>
<text x="60.30" y="394.25" font-size="6.9" text-anchor="end" fill="#1e1e1e">1.2</text>
<line x1="62.40" y1="376.74" x2="64.70" y2="376.74" stroke="#5e5e5e" stroke-width="1.0"/>
<text x="60.30" y="379.22" font-size="6.9" text-anchor="end" fill="#1e1e1e">1.4</text>
<line x1="62.40" y1="361.71" x2="64.70" y2="361.71" stroke="#5e5e5e" stroke-width="1.0"/>
<text x="60.30" y="364.19" font-size="6.9" text-anchor="end" fill="#1e1e1e">1.6</text>
<line x1="62.40" y1="346.68" x2="64.70" y2="346.68" stroke="#5e5e5e" stroke-width="1.0"/>
<text x="60.30" y="349.16" font-size="6.9" text-anchor="end" fill="#1e1e1e">1.8</text>
<line x1="62.40" y1="331.65" x2="64.70" y2="331.65" stroke="#5e5e5e" stroke-width="1.0"/>
<text x="60.30" y="334.13" font-size="6.9" text-anchor="end" fill="#1e1e1e">2.0</text>
<line x1="62.40" y1="316.62" x2="64.70" y2="316.62" stroke="#5e5e5e" stroke-width="1.0"/>
<text x="60.30" y="319.10" font-size="6.9" text-anchor="end" fill="#1e1e1e">2.2</text>
<line x1="64.70" y1="409.30" x2="64.70" y2="411.60" stroke="#5e5e5e" stroke-width="1.0"/>
<line x1="156.10" y1="409.30" x2="156.10" y2="411.60" stroke="#5e5e5e" stroke-width="1.0"/>
<line x1="247.50" y1="409.30" x2="247.50" y2="411.60" stroke="#5e5e5e" stroke-width="1.0"/>
<text x="63.70" y="418.80" font-size="6.8" text-anchor="start" fill="#1e1e1e">-2.0Kb</text>
<text x="156.50" y="418.80" font-size="6.8" text-anchor="middle" fill="#1e1e1e">TAD border</text>
<text x="247.40" y="418.80" font-size="6.8" text-anchor="end" fill="#1e1e1e">2.0Kb</text>
<text x="0" y="0" transform="translate(43.00 363.00) rotate(-90)" font-size="6.8" text-anchor="middle" fill="#1e1e1e">Average signals</text>
<line x1="201.00" y1="316.80" x2="213.10" y2="316.80" stroke="#2e2d8f" stroke-width="1.5"/>
<text x="213.90" y="318.71" font-size="5.3" fill="#2a2a2a" style="stroke-width:0.06px"><tspan>Mock</tspan></text>
<line x1="201.00" y1="325.70" x2="213.10" y2="325.70" stroke="#45d3f3" stroke-width="1.5"/>
<text x="213.90" y="327.61" font-size="5.3" fill="#2a2a2a" style="stroke-width:0.06px"><tspan font-style="italic">Cp190</tspan><tspan font-style="italic" font-size="3.18" dy="-1.91">RNAi</tspan></text>
<line x1="201.00" y1="334.50" x2="213.10" y2="334.50" stroke="#fbe22a" stroke-width="1.5"/>
<text x="213.90" y="336.41" font-size="5.3" fill="#2a2a2a" style="stroke-width:0.06px"><tspan font-style="italic">M1BP</tspan><tspan font-style="italic" font-size="3.18" dy="-1.91">RNAi</tspan></text>
<text x="315.90" y="282.70" font-size="11" text-anchor="start" fill="#000" font-weight="bold">g</text>
<path d="M356.85,434.52 L357.29,433.65 L357.73,432.70 L358.17,431.68 L358.61,430.62 L359.05,429.50 L359.49,428.34 L359.93,427.13 L360.37,425.89 L360.81,424.61 L361.25,423.29 L361.69,421.95 L362.13,420.57 L362.57,419.17 L363.01,417.75 L363.45,416.30 L363.89,414.84 L364.33,413.35 L364.77,411.85 L365.21,410.34 L365.65,408.82 L366.09,407.29 L366.53,405.76 L366.97,404.22 L367.41,402.67 L367.85,401.13 L368.29,399.59 L368.73,398.04 L369.17,396.51 L369.61,394.98 L370.05,393.45 L370.49,391.94 L370.93,390.43 L371.37,388.94 L371.81,387.46 L372.25,385.99 L372.69,384.54 L373.13,383.10 L373.57,381.68 L374.01,380.28 L374.45,378.90 L374.89,377.53 L375.33,376.19 L375.77,374.86 L376.21,373.56 L376.65,372.28 L377.09,371.02 L377.53,369.78 L377.97,368.56 L378.41,367.37 L378.85,366.19 L379.29,365.05 L379.73,363.92 L380.17,362.82 L380.61,361.74 L381.05,360.68 L381.49,359.64 L381.93,358.63 L382.37,357.64 L382.81,356.68 L383.25,355.73 L383.69,354.80 L384.13,353.90 L384.57,353.02 L385.01,352.16 L385.45,351.32 L385.89,350.50 L386.33,349.69 L386.77,348.91 L387.21,348.15 L387.65,347.40 L388.09,346.68 L388.53,345.97 L388.97,345.27 L389.41,344.60 L389.85,343.94 L390.29,343.29 L390.73,342.66 L391.17,342.05 L391.61,341.45 L392.05,340.86 L392.49,340.29 L392.93,339.73 L393.37,339.19 L393.81,338.65 L394.25,338.13 L394.69,337.62 L395.13,337.12 L395.57,336.63 L396.01,336.15 L396.45,335.68 L396.89,335.22 L397.33,334.77 L397.77,334.33 L398.21,333.90 L398.65,333.48 L399.09,333.06 L399.53,332.66 L399.97,332.26 L400.41,331.86 L400.85,331.48 L401.29,331.10 L401.73,330.73 L402.17,330.36 L402.61,330.00 L403.05,329.65 L403.49,329.30 L403.93,328.96 L404.37,328.62 L404.81,328.28 L405.25,327.96 L405.69,327.63 L406.13,327.32 L406.57,327.00 L407.01,326.69 L407.45,326.39 L407.89,326.09 L408.33,325.79 L408.77,325.50 L409.21,325.21 L409.65,324.92 L410.09,324.64 L410.53,324.36 L410.97,324.09 L411.41,323.81 L411.85,323.54 L412.29,323.28 L412.73,323.02 L413.17,322.76 L413.61,322.50 L414.05,322.24 L414.49,321.99 L414.93,321.74 L415.37,321.50 L415.81,321.25 L416.25,321.01 L416.69,320.77 L417.13,320.54 L417.57,320.30 L418.01,320.07 L418.45,319.84 L418.89,319.62 L419.33,319.39 L419.77,319.17 L420.21,318.95 L420.65,318.73 L421.09,318.52 L421.53,318.30 L421.97,318.09 L422.41,317.88 L422.85,317.68 L423.29,317.47 L423.73,317.27 L424.17,317.06 L424.61,316.87 L425.05,316.67 L425.49,316.47 L425.93,316.28 L426.37,316.08 L426.81,315.89 L427.25,315.71 L427.69,315.52 L428.13,315.33 L428.57,315.15 L429.01,314.97 L429.45,314.79 L429.89,314.61 L430.33,314.43 L430.77,314.26 L431.21,314.08 L431.65,313.91 L432.09,313.74 L432.53,313.57 L432.97,313.41 L433.41,313.24 L433.85,313.08 L434.29,312.91 L434.73,312.75 L435.17,312.59 L435.61,312.43 L436.05,312.28 L436.49,312.12 L436.93,311.97 L437.37,311.82 L437.81,311.67 L438.25,311.52 L438.69,311.37 L439.13,311.22 L439.57,311.08 L440.01,310.93 L440.45,310.79 L440.89,310.65 L441.33,310.51 L441.77,310.37 L442.21,310.23 L442.65,310.09 L443.09,309.96 L443.53,309.82 L443.97,309.69 L444.41,309.56 L444.85,309.43 L445.29,309.30 L445.73,309.17 L446.17,309.05 L446.61,308.92 L447.05,308.80 L447.49,308.67 L447.93,308.55 L448.37,308.43 L448.81,308.31 L449.25,308.19 L449.69,308.07 L450.13,307.96 L450.57,307.84 L451.01,307.73 L451.45,307.61 L451.89,307.50 L452.33,307.39 L452.77,307.28 L453.21,307.17 L453.65,307.06 L454.09,306.95 L454.53,306.85 L454.97,306.74 L455.41,306.64 L455.85,306.53 L456.29,306.43 L456.73,306.33 L457.17,306.23 L457.61,306.13 L458.05,306.03 L458.49,305.93 L458.93,305.83 L459.37,305.74 L459.81,305.64 L460.25,305.55 L460.69,305.46 L461.13,305.36 L461.57,305.27 L462.01,305.18 L462.45,305.09 L462.89,305.00 L463.33,304.91 L463.77,304.82 L464.21,304.74 L464.65,304.65 L465.09,304.57 L465.53,304.48 L465.97,304.40 L466.41,304.31 L466.85,304.23 L467.29,304.15 L467.73,304.07 L468.17,303.99 L468.61,303.91 L469.05,303.83 L469.49,303.75 L469.93,303.68 L470.37,303.60 L470.81,303.53 L471.25,303.45 L471.69,303.38 L472.13,303.30 L472.57,303.23 L473.01,303.16 L473.45,303.09 L473.89,303.02 L474.33,302.94 L474.77,302.88 L475.21,302.81 L475.65,302.74 L476.09,302.67 L476.53,302.60 L476.97,302.54 L477.41,302.47 L477.85,302.41 L478.29,302.34 L478.73,302.28 L479.17,302.21 L479.61,302.15 L480.05,302.09 L480.49,302.03 L480.93,301.96 L481.37,301.90 L481.81,301.84 L482.25,301.78 L482.69,301.73 L483.13,301.67 L483.57,301.61 L484.01,301.55 L484.45,301.49 L484.89,301.44 L485.33,301.38 L485.77,301.33 L486.21,301.27 L486.65,301.22 L487.09,301.16 L487.53,301.11 L487.97,301.06 L488.41,301.01 L488.85,300.95 L489.29,300.90 L489.73,300.85 L490.17,300.80 L490.61,300.75 L491.05,300.70 L491.49,300.65 L491.93,300.60 L492.37,300.56 L492.81,300.51 L493.25,300.46 L493.69,300.41 L494.13,300.37 L494.57,300.32 L495.01,300.28 L495.45,300.23 L495.89,300.19 L496.33,300.14 L496.77,300.10 L497.21,300.05 L497.65,300.01 L498.09,299.97 L498.53,299.93 L498.97,299.88 L499.41,299.84 L499.85,299.80 L500.29,299.76 L500.73,299.72 L501.17,299.68 L501.61,299.64 L502.05,299.60 L502.49,299.56 L502.93,299.52 L503.37,299.48 L503.81,299.45 L504.25,299.41 L504.69,299.37 L505.13,299.34 L505.57,299.30 L506.01,299.26 L506.45,299.23 L506.89,299.19 L507.33,299.16 L507.77,299.12 L508.21,299.09 L508.65,299.05 L509.09,299.02 L509.53,298.98 L509.97,298.95 L510.41,298.92 L510.85,298.89 L511.29,298.85 L511.73,298.82 L512.17,298.79 L512.61,298.76 L513.05,298.73 L513.49,298.70 L513.93,298.66 L514.37,298.63 L514.81,298.60 L515.25,298.57 L515.69,298.54 L516.13,298.52 L516.57,298.49 L517.01,298.46 L517.45,298.43 L517.89,298.40 L518.33,298.37 L518.77,298.35 L519.21,298.32 L519.65,298.29 L520.09,298.26 L520.53,298.24 L520.97,298.21 L521.41,298.18 L521.85,298.16 L522.29,298.13 L522.73,298.11 L523.17,298.08 L523.61,298.06 L524.05,298.03 L524.49,298.01 L524.93,297.98 L525.37,297.96 L525.81,297.93 L526.25,297.91 L526.69,297.89 L527.13,297.86 L527.57,297.84 L528.01,297.82 L528.45,297.80 L528.89,297.77 L529.33,297.75 L529.77,297.73 L530.21,297.71 L530.65,297.69 L531.09,297.66 L531.53,297.64 L531.97,297.62 L532.41,297.60 L532.85,297.58" fill="none" stroke="#c8403c" stroke-width="1.05"/>
<path d="M356.50,434.07 L356.94,433.20 L357.38,432.25 L357.82,431.23 L358.26,430.17 L358.70,429.05 L359.14,427.89 L359.58,426.68 L360.02,425.44 L360.46,424.16 L360.90,422.84 L361.34,421.50 L361.78,420.12 L362.22,418.72 L362.66,417.30 L363.10,415.85 L363.54,414.39 L363.98,412.90 L364.42,411.40 L364.86,409.89 L365.30,408.37 L365.74,406.84 L366.18,405.31 L366.62,403.77 L367.06,402.22 L367.50,400.68 L367.94,399.14 L368.38,397.59 L368.82,396.06 L369.26,394.53 L369.70,393.00 L370.14,391.49 L370.58,389.98 L371.02,388.49 L371.46,387.01 L371.90,385.54 L372.34,384.09 L372.78,382.65 L373.22,381.23 L373.66,379.83 L374.10,378.45 L374.54,377.08 L374.98,375.74 L375.42,374.41 L375.86,373.11 L376.30,371.83 L376.74,370.57 L377.18,369.33 L377.62,368.11 L378.06,366.92 L378.50,365.74 L378.94,364.60 L379.38,363.47 L379.82,362.37 L380.26,361.29 L380.70,360.23 L381.14,359.19 L381.58,358.18 L382.02,357.19 L382.46,356.23 L382.90,355.28 L383.34,354.35 L383.78,353.45 L384.22,352.57 L384.66,351.71 L385.10,350.87 L385.54,350.05 L385.98,349.24 L386.42,348.46 L386.86,347.70 L387.30,346.95 L387.74,346.23 L388.18,345.52 L388.62,344.82 L389.06,344.15 L389.50,343.49 L389.94,342.84 L390.38,342.21 L390.82,341.60 L391.26,341.00 L391.70,340.41 L392.14,339.84 L392.58,339.28 L393.02,338.74 L393.46,338.20 L393.90,337.68 L394.34,337.17 L394.78,336.67 L395.22,336.18 L395.66,335.70 L396.10,335.23 L396.54,334.77 L396.98,334.32 L397.42,333.88 L397.86,333.45 L398.30,333.03 L398.74,332.61 L399.18,332.21 L399.62,331.81 L400.06,331.41 L400.50,331.03 L400.94,330.65 L401.38,330.28 L401.82,329.91 L402.26,329.55 L402.70,329.20 L403.14,328.85 L403.58,328.51 L404.02,328.17 L404.46,327.83 L404.90,327.51 L405.34,327.18 L405.78,326.87 L406.22,326.55 L406.66,326.24 L407.10,325.94 L407.54,325.64 L407.98,325.34 L408.42,325.05 L408.86,324.76 L409.30,324.47 L409.74,324.19 L410.18,323.91 L410.62,323.64 L411.06,323.36 L411.50,323.09 L411.94,322.83 L412.38,322.57 L412.82,322.31 L413.26,322.05 L413.70,321.79 L414.14,321.54 L414.58,321.29 L415.02,321.05 L415.46,320.80 L415.90,320.56 L416.34,320.32 L416.78,320.09 L417.22,319.85 L417.66,319.62 L418.10,319.39 L418.54,319.17 L418.98,318.94 L419.42,318.72 L419.86,318.50 L420.30,318.28 L420.74,318.07 L421.18,317.85 L421.62,317.64 L422.06,317.43 L422.50,317.23 L422.94,317.02 L423.38,316.82 L423.82,316.61 L424.26,316.42 L424.70,316.22 L425.14,316.02 L425.58,315.83 L426.02,315.63 L426.46,315.44 L426.90,315.26 L427.34,315.07 L427.78,314.88 L428.22,314.70 L428.66,314.52 L429.10,314.34 L429.54,314.16 L429.98,313.98 L430.42,313.81 L430.86,313.63 L431.30,313.46 L431.74,313.29 L432.18,313.12 L432.62,312.96 L433.06,312.79 L433.50,312.63 L433.94,312.46 L434.38,312.30 L434.82,312.14 L435.26,311.98 L435.70,311.83 L436.14,311.67 L436.58,311.52 L437.02,311.37 L437.46,311.22 L437.90,311.07 L438.34,310.92 L438.78,310.77 L439.22,310.63 L439.66,310.48 L440.10,310.34 L440.54,310.20 L440.98,310.06 L441.42,309.92 L441.86,309.78 L442.30,309.64 L442.74,309.51 L443.18,309.37 L443.62,309.24 L444.06,309.11 L444.50,308.98 L444.94,308.85 L445.38,308.72 L445.82,308.60 L446.26,308.47 L446.70,308.35 L447.14,308.22 L447.58,308.10 L448.02,307.98 L448.46,307.86 L448.90,307.74 L449.34,307.62 L449.78,307.51 L450.22,307.39 L450.66,307.28 L451.10,307.16 L451.54,307.05 L451.98,306.94 L452.42,306.83 L452.86,306.72 L453.30,306.61 L453.74,306.50 L454.18,306.40 L454.62,306.29 L455.06,306.19 L455.50,306.08 L455.94,305.98 L456.38,305.88 L456.82,305.78 L457.26,305.68 L457.70,305.58 L458.14,305.48 L458.58,305.38 L459.02,305.29 L459.46,305.19 L459.90,305.10 L460.34,305.01 L460.78,304.91 L461.22,304.82 L461.66,304.73 L462.10,304.64 L462.54,304.55 L462.98,304.46 L463.42,304.37 L463.86,304.29 L464.30,304.20 L464.74,304.12 L465.18,304.03 L465.62,303.95 L466.06,303.86 L466.50,303.78 L466.94,303.70 L467.38,303.62 L467.82,303.54 L468.26,303.46 L468.70,303.38 L469.14,303.30 L469.58,303.23 L470.02,303.15 L470.46,303.08 L470.90,303.00 L471.34,302.93 L471.78,302.85 L472.22,302.78 L472.66,302.71 L473.10,302.64 L473.54,302.57 L473.98,302.49 L474.42,302.43 L474.86,302.36 L475.30,302.29 L475.74,302.22 L476.18,302.15 L476.62,302.09 L477.06,302.02 L477.50,301.96 L477.94,301.89 L478.38,301.83 L478.82,301.76 L479.26,301.70 L479.70,301.64 L480.14,301.58 L480.58,301.51 L481.02,301.45 L481.46,301.39 L481.90,301.33 L482.34,301.28 L482.78,301.22 L483.22,301.16 L483.66,301.10 L484.10,301.04 L484.54,300.99 L484.98,300.93 L485.42,300.88 L485.86,300.82 L486.30,300.77 L486.74,300.71 L487.18,300.66 L487.62,300.61 L488.06,300.56 L488.50,300.50 L488.94,300.45 L489.38,300.40 L489.82,300.35 L490.26,300.30 L490.70,300.25 L491.14,300.20 L491.58,300.15 L492.02,300.11 L492.46,300.06 L492.90,300.01 L493.34,299.96 L493.78,299.92 L494.22,299.87 L494.66,299.83 L495.10,299.78 L495.54,299.74 L495.98,299.69 L496.42,299.65 L496.86,299.60 L497.30,299.56 L497.74,299.52 L498.18,299.48 L498.62,299.43 L499.06,299.39 L499.50,299.35 L499.94,299.31 L500.38,299.27 L500.82,299.23 L501.26,299.19 L501.70,299.15 L502.14,299.11 L502.58,299.07 L503.02,299.03 L503.46,299.00 L503.90,298.96 L504.34,298.92 L504.78,298.89 L505.22,298.85 L505.66,298.81 L506.10,298.78 L506.54,298.74 L506.98,298.71 L507.42,298.67 L507.86,298.64 L508.30,298.60 L508.74,298.57 L509.18,298.53 L509.62,298.50 L510.06,298.47 L510.50,298.44 L510.94,298.40 L511.38,298.37 L511.82,298.34 L512.26,298.31 L512.70,298.28 L513.14,298.25 L513.58,298.21 L514.02,298.18 L514.46,298.15 L514.90,298.12 L515.34,298.09 L515.78,298.07 L516.22,298.04 L516.66,298.01 L517.10,297.98 L517.54,297.95 L517.98,297.92 L518.42,297.90 L518.86,297.87 L519.30,297.84 L519.74,297.81 L520.18,297.79 L520.62,297.76 L521.06,297.73 L521.50,297.71 L521.94,297.68 L522.38,297.66 L522.82,297.63 L523.26,297.61 L523.70,297.58 L524.14,297.56 L524.58,297.53 L525.02,297.51 L525.46,297.48 L525.90,297.46 L526.34,297.44 L526.78,297.41 L527.22,297.39 L527.66,297.37 L528.10,297.35 L528.54,297.32 L528.98,297.30 L529.42,297.28 L529.86,297.26 L530.30,297.24 L530.74,297.21 L531.18,297.19 L531.62,297.17 L532.06,297.15 L532.50,297.13" fill="none" stroke="#262626" stroke-width="1.0"/>
<path d="M356.50,433.73 L356.94,432.31 L357.38,430.35 L357.82,428.09 L358.26,425.62 L358.70,422.99 L359.14,420.25 L359.58,417.41 L360.02,414.51 L360.46,411.56 L360.90,408.58 L361.34,405.59 L361.78,402.59 L362.22,399.59 L362.66,396.61 L363.10,393.66 L363.54,390.73 L363.98,387.84 L364.42,385.00 L364.86,382.20 L365.30,379.45 L365.74,376.76 L366.18,374.12 L366.62,371.54 L367.06,369.03 L367.50,366.58 L367.94,364.19 L368.38,361.87 L368.82,359.61 L369.26,357.42 L369.70,355.29 L370.14,353.24 L370.58,351.24 L371.02,349.32 L371.46,347.45 L371.90,345.65 L372.34,343.91 L372.78,342.24 L373.22,340.62 L373.66,339.06 L374.10,337.56 L374.54,336.12 L374.98,334.73 L375.42,333.40 L375.86,332.11 L376.30,330.88 L376.74,329.69 L377.18,328.56 L377.62,327.46 L378.06,326.41 L378.50,325.41 L378.94,324.44 L379.38,323.52 L379.82,322.63 L380.26,321.78 L380.70,320.96 L381.14,320.18 L381.58,319.43 L382.02,318.71 L382.46,318.02 L382.90,317.36 L383.34,316.73 L383.78,316.12 L384.22,315.54 L384.66,314.98 L385.10,314.44 L385.54,313.93 L385.98,313.44 L386.42,312.96 L386.86,312.51 L387.30,312.07 L387.74,311.65 L388.18,311.25 L388.62,310.86 L389.06,310.49 L389.50,310.13 L389.94,309.79 L390.38,309.45 L390.82,309.13 L391.26,308.83 L391.70,308.53 L392.14,308.24 L392.58,307.96 L393.02,307.70 L393.46,307.44 L393.90,307.19 L394.34,306.95 L394.78,306.71 L395.22,306.49 L395.66,306.27 L396.10,306.06 L396.54,305.85 L396.98,305.65 L397.42,305.46 L397.86,305.27 L398.30,305.08 L398.74,304.91 L399.18,304.73 L399.62,304.56 L400.06,304.40 L400.50,304.24 L400.94,304.08 L401.38,303.93 L401.82,303.78 L402.26,303.64 L402.70,303.50 L403.14,303.36 L403.58,303.22 L404.02,303.09 L404.46,302.96 L404.90,302.83 L405.34,302.71 L405.78,302.59 L406.22,302.47 L406.66,302.35 L407.10,302.24 L407.54,302.12 L407.98,302.01 L408.42,301.91 L408.86,301.80 L409.30,301.70 L409.74,301.60 L410.18,301.49 L410.62,301.40 L411.06,301.30 L411.50,301.20 L411.94,301.11 L412.38,301.02 L412.82,300.93 L413.26,300.84 L413.70,300.75 L414.14,300.67 L414.58,300.58 L415.02,300.50 L415.46,300.42 L415.90,300.34 L416.34,300.26 L416.78,300.18 L417.22,300.10 L417.66,300.03 L418.10,299.95 L418.54,299.88 L418.98,299.81 L419.42,299.74 L419.86,299.67 L420.30,299.60 L420.74,299.53 L421.18,299.46 L421.62,299.40 L422.06,299.33 L422.50,299.27 L422.94,299.21 L423.38,299.14 L423.82,299.08 L424.26,299.02 L424.70,298.96 L425.14,298.91 L425.58,298.85 L426.02,298.79 L426.46,298.74 L426.90,298.68 L427.34,298.63 L427.78,298.57 L428.22,298.52 L428.66,298.47 L429.10,298.42 L429.54,298.37 L429.98,298.32 L430.42,298.27 L430.86,298.22 L431.30,298.17 L431.74,298.13 L432.18,298.08 L432.62,298.03 L433.06,297.99 L433.50,297.94 L433.94,297.90 L434.38,297.86 L434.82,297.82 L435.26,297.77 L435.70,297.73 L436.14,297.69 L436.58,297.65 L437.02,297.61 L437.46,297.57 L437.90,297.54 L438.34,297.50 L438.78,297.46 L439.22,297.42 L439.66,297.39 L440.10,297.35 L440.54,297.32 L440.98,297.28 L441.42,297.25 L441.86,297.21 L442.30,297.18 L442.74,297.15 L443.18,297.12 L443.62,297.08 L444.06,297.05 L444.50,297.02 L444.94,296.99 L445.38,296.96 L445.82,296.93 L446.26,296.90 L446.70,296.88 L447.14,296.85 L447.58,296.82 L448.02,296.79 L448.46,296.76 L448.90,296.74 L449.34,296.71 L449.78,296.69 L450.22,296.66 L450.66,296.63 L451.10,296.61 L451.54,296.59 L451.98,296.56 L452.42,296.54 L452.86,296.51 L453.30,296.49 L453.74,296.47 L454.18,296.45 L454.62,296.42 L455.06,296.40 L455.50,296.38 L455.94,296.36 L456.38,296.34 L456.82,296.32 L457.26,296.30 L457.70,296.28 L458.14,296.26 L458.58,296.24 L459.02,296.22 L459.46,296.20 L459.90,296.18 L460.34,296.16 L460.78,296.15 L461.22,296.13 L461.66,296.11 L462.10,296.09 L462.54,296.08 L462.98,296.06 L463.42,296.04 L463.86,296.03 L464.30,296.01 L464.74,295.99 L465.18,295.98 L465.62,295.96 L466.06,295.95 L466.50,295.93 L466.94,295.92 L467.38,295.90 L467.82,295.89 L468.26,295.87 L468.70,295.86 L469.14,295.85 L469.58,295.83 L470.02,295.82 L470.46,295.81 L470.90,295.79 L471.34,295.78 L471.78,295.77 L472.22,295.76 L472.66,295.74 L473.10,295.73 L473.54,295.72 L473.98,295.71 L474.42,295.70 L474.86,295.69 L475.30,295.67 L475.74,295.66 L476.18,295.65 L476.62,295.64 L477.06,295.63 L477.50,295.62 L477.94,295.61 L478.38,295.60 L478.82,295.59 L479.26,295.58 L479.70,295.57 L480.14,295.56 L480.58,295.55 L481.02,295.54 L481.46,295.53 L481.90,295.52 L482.34,295.51 L482.78,295.51 L483.22,295.50 L483.66,295.49 L484.10,295.48 L484.54,295.47 L484.98,295.46 L485.42,295.46 L485.86,295.45 L486.30,295.44 L486.74,295.43 L487.18,295.42 L487.62,295.42 L488.06,295.41 L488.50,295.40 L488.94,295.39 L489.38,295.39 L489.82,295.38 L490.26,295.37 L490.70,295.37 L491.14,295.36 L491.58,295.35 L492.02,295.35 L492.46,295.34 L492.90,295.33 L493.34,295.33 L493.78,295.32 L494.22,295.32 L494.66,295.31 L495.10,295.30 L495.54,295.30 L495.98,295.29 L496.42,295.29 L496.86,295.28 L497.30,295.28 L497.74,295.27 L498.18,295.27 L498.62,295.26 L499.06,295.26 L499.50,295.25 L499.94,295.25 L500.38,295.24 L500.82,295.24 L501.26,295.23 L501.70,295.23 L502.14,295.22 L502.58,295.22 L503.02,295.21 L503.46,295.21 L503.90,295.20 L504.34,295.20 L504.78,295.19 L505.22,295.19 L505.66,295.19 L506.10,295.18 L506.54,295.18 L506.98,295.17 L507.42,295.17 L507.86,295.17 L508.30,295.16 L508.74,295.16 L509.18,295.15 L509.62,295.15 L510.06,295.15 L510.50,295.14 L510.94,295.14 L511.38,295.14 L511.82,295.13 L512.26,295.13 L512.70,295.13 L513.14,295.12 L513.58,295.12 L514.02,295.12 L514.46,295.11 L514.90,295.11 L515.34,295.11 L515.78,295.11 L516.22,295.10 L516.66,295.10 L517.10,295.10 L517.54,295.09 L517.98,295.09 L518.42,295.09 L518.86,295.09 L519.30,295.08 L519.74,295.08 L520.18,295.08 L520.62,295.08 L521.06,295.07 L521.50,295.07 L521.94,295.07 L522.38,295.07 L522.82,295.06 L523.26,295.06 L523.70,295.06 L524.14,295.06 L524.58,295.05 L525.02,295.05 L525.46,295.05 L525.90,295.05 L526.34,295.05 L526.78,295.04 L527.22,295.04 L527.66,295.04 L528.10,295.04 L528.54,295.04 L528.98,295.03 L529.42,295.03 L529.86,295.03 L530.30,295.03 L530.74,295.03 L531.18,295.02 L531.62,295.02 L532.06,295.02 L532.50,295.02" fill="none" stroke="#3a88dc" stroke-width="1.1"/>
<rect x="356.60" y="285.30" width="175.90" height="169.30" fill="none" stroke="#b0b0b0" stroke-width="1.0"/>
<text x="353.30" y="457.10" font-size="6.9" text-anchor="end" fill="#1e1e1e">0.0</text>
<text x="353.30" y="425.14" font-size="6.9" text-anchor="end" fill="#1e1e1e">0.2</text>
<text x="353.30" y="393.18" font-size="6.9" text-anchor="end" fill="#1e1e1e">0.4</text>
<text x="353.30" y="361.22" font-size="6.9" text-anchor="end" fill="#1e1e1e">0.6</text>
<text x="353.30" y="329.26" font-size="6.9" text-anchor="end" fill="#1e1e1e">0.8</text>
<text x="353.30" y="297.30" font-size="6.9" text-anchor="end" fill="#1e1e1e">1.0</text>
<text x="358.20" y="463.00" font-size="6.9" text-anchor="middle" fill="#1e1e1e">0</text>
<text x="391.00" y="463.00" font-size="6.9" text-anchor="middle" fill="#1e1e1e">20</text>
<text x="425.40" y="463.00" font-size="6.9" text-anchor="middle" fill="#1e1e1e">40</text>
<text x="460.30" y="463.00" font-size="6.9" text-anchor="middle" fill="#1e1e1e">60</text>
<text x="495.00" y="463.00" font-size="6.9" text-anchor="middle" fill="#1e1e1e">80</text>
<text x="531.90" y="463.00" font-size="6.9" text-anchor="middle" fill="#1e1e1e">100</text>
<text x="445.60" y="473.30" font-size="6.9" text-anchor="middle" fill="#1e1e1e">Distance from TAD boundary (Kb)</text>
<text x="0" y="0" transform="translate(336.60 372.00) rotate(-90)" font-size="6.9" text-anchor="middle" fill="#1e1e1e">Fraction of changed ATAC-seq peaks</text>
<text x="444.6" y="282.5" font-size="6.4" text-anchor="middle" fill="#1e1e1e"><tspan font-style="italic">M1BP</tspan><tspan font-style="italic" font-size="3.84" dy="-2.30">RNAi</tspan></text>
<line x1="361.30" y1="431.90" x2="371.90" y2="431.90" stroke="#3a86d8" stroke-width="1.4"/>
<text x="373.70" y="434.10" font-size="6.0" text-anchor="start" fill="#1e1e1e">Down</text>
<line x1="361.30" y1="440.00" x2="371.90" y2="440.00" stroke="#333333" stroke-width="1.4"/>
<text x="373.70" y="442.20" font-size="6.0" text-anchor="start" fill="#1e1e1e">Unchanged</text>
<line x1="361.30" y1="448.00" x2="371.90" y2="448.00" stroke="#e59a9a" stroke-width="1.4"/>
<text x="373.70" y="450.20" font-size="6.0" text-anchor="start" fill="#1e1e1e">Up</text>
<path d="M406.6,429.1 H408.5 V439.0 H406.6" fill="none" stroke="#222" stroke-width="1.15"/>
<path d="M406.6,441.8 H408.5 V451.2 H406.6" fill="none" stroke="#222" stroke-width="1.15"/>
<text x="410.60" y="436.60" font-size="6.0" text-anchor="start" fill="#1e1e1e">FDR 8.4e-170</text>
<text x="410.60" y="449.00" font-size="6.0" text-anchor="start" fill="#1e1e1e">FDR 0.04</text>
</svg>
</body></html>
